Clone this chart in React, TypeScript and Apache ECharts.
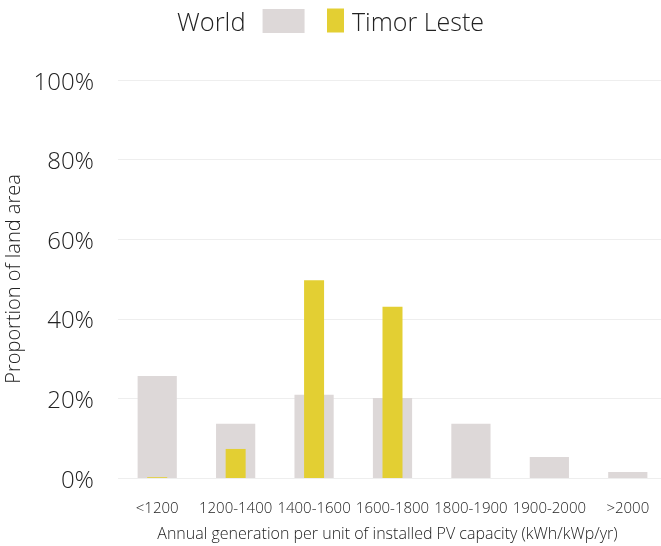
import React, { useEffect, useRef } from "react";
import * as echarts from "echarts";

const categories = ["<1200", "1200-1400", "1400-1600", "1600-1800", "1800-1900", "1900-2000", ">2000"];
const worldValues = [25.6, 13.6, 20.9, 20.1, 13.6, 5.3, 1.5];
const timorValues = [0.2, 7.3, 49.7, 43.0, 0, 0, 0];
const yTicks = [0, 20, 40, 60, 80, 100];

const FONT = "'Open Sans', Lato, sans-serif";
const W = 300;
const TXT = "#222";

export default function App() {
  const ref = useRef<HTMLDivElement>(null);
  useEffect(() => {
    if (!ref.current) return;
    const chart = echarts.init(ref.current, undefined, { renderer: "svg" });
    chart.setOption({
      animation: false,
      textStyle: { fontFamily: FONT, fontWeight: W },
      legend: [
        {
          data: ["World"],
          left: 172,
          top: 3,
          align: "right",
          itemWidth: 42,
          itemHeight: 24,
          icon: "rect",
          textStyle: { fontSize: 25.5, color: TXT, fontFamily: FONT, fontWeight: W, padding: [0, 12, 0, 0] },
          selectedMode: false,
        },
        {
          data: ["Timor Leste"],
          left: 322,
          top: 3,
          align: "left",
          itemWidth: 17,
          itemHeight: 24,
          icon: "rect",
          textStyle: { fontSize: 25, color: TXT, fontFamily: FONT, fontWeight: W, padding: [0, 0, 0, 3] },
          selectedMode: false,
        },
      ],
      grid: { left: 118, right: -6, top: 80, bottom: 68, containLabel: false, outerBoundsMode: "none" },
      xAxis: [
        {
          type: "category",
          data: categories,
          axisLine: { show: false },
          axisTick: { show: false },
          axisLabel: { fontSize: 15, color: TXT, margin: 21, interval: 0, fontFamily: FONT, fontWeight: W },
          name: "Annual generation per unit of installed PV capacity (kWh/kWp/yr)",
          nameLocation: "middle",
          nameGap: 47,
          nameTextStyle: { fontSize: 16, color: TXT, fontFamily: FONT, fontWeight: W, padding: [0, 10, 0, 0] },
        },
        {
          type: "category",
          data: categories,
          show: false,
          position: "bottom",
        },
      ],
      yAxis: {
        type: "value",
        min: yTicks[0],
        max: yTicks[yTicks.length - 1],
        interval: 20,
        axisLine: { show: false },
        axisTick: { show: false },
        splitLine: { lineStyle: { color: "#eeeeee", width: 1 } },
        axisLabel: { fontSize: 24, color: TXT, margin: 24, formatter: "{value}%", fontFamily: FONT, fontWeight: W },
        name: "Proportion of land area",
        nameLocation: "middle",
        nameGap: 70,
        nameTextStyle: { fontSize: 20, color: TXT, fontFamily: FONT, fontWeight: W },
      },
      series: [
        {
          name: "World",
          type: "bar",
          xAxisIndex: 0,
          data: worldValues,
          barWidth: "50%",
          itemStyle: { color: "#ddd8d8" },
          z: 1,
        },
        {
          name: "Timor Leste",
          type: "bar",
          xAxisIndex: 1,
          data: timorValues,
          barWidth: "25.5%",
          itemStyle: { color: "#e3cf33" },
          z: 2,
        },
      ],
    });
    return () => chart.dispose();
  }, []);
  return <div ref={ref} style={{ position: "fixed", left: 0, top: 0, width: 661, height: 546 }} />;
}
